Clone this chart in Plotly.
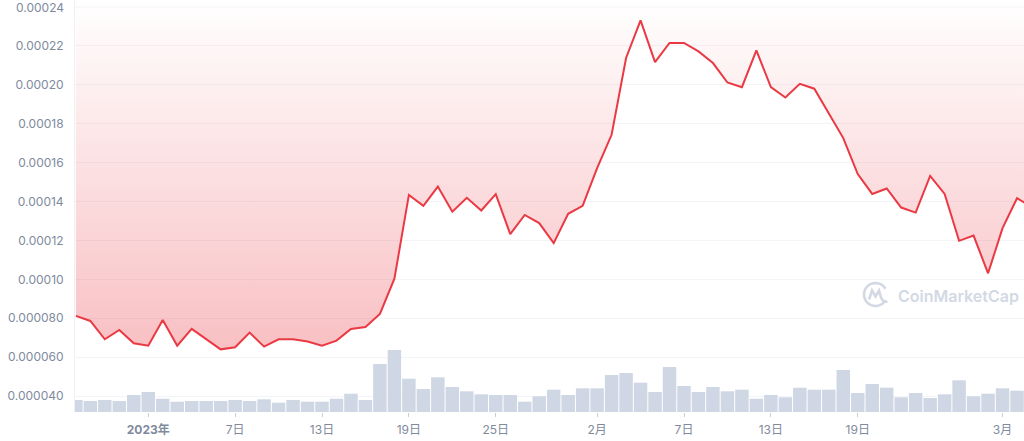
import math
import plotly.graph_objects as go
import pandas as pd

# ---- data ----
dates = pd.date_range("2022-12-27", "2023-03-03", freq="D")

price = [
    0.0000812, 0.0000786, 0.0000692, 0.0000740, 0.0000671,  # Dec 27-31
    0.0000659, 0.0000791, 0.0000659, 0.0000745, 0.0000693, 0.0000640, 0.0000651,
    0.0000726, 0.0000654, 0.0000692, 0.0000692, 0.0000680, 0.0000659, 0.0000685,
    0.0000745, 0.0000755, 0.0000822, 0.0001003, 0.0001434, 0.0001378, 0.0001477,
    0.0001348, 0.0001419, 0.0001354, 0.0001438, 0.0001232, 0.0001331, 0.0001289,
    0.0001186, 0.0001337, 0.0001378,  # Jan
    0.0001572, 0.0001743, 0.0002138, 0.0002331, 0.0002117, 0.0002215, 0.0002215,
    0.0002172, 0.0002112, 0.0002012, 0.0001988, 0.0002177, 0.0001988, 0.0001935,
    0.0002005, 0.0001980, 0.0001855, 0.0001726, 0.0001541, 0.0001439, 0.0001467,
    0.0001369, 0.0001343, 0.0001532, 0.0001439, 0.0001198, 0.0001225, 0.0001031,  # Feb
    0.0001263, 0.0001417, 0.0001373,  # Mar 1-3
]

volume = [
    12, 11, 12, 11, 17,
    20, 13.3, 10.3, 11, 11, 11, 12, 11, 12.7, 9.3, 12, 10.3, 10.3, 13.3, 18.3,
    12, 48, 62, 33.3, 23, 34.7, 25, 20.7, 17.7, 17, 17, 10.3, 15.7, 22.3, 17, 23.7,
    23.7, 37, 39, 29.3, 20, 45, 26, 20, 25, 20.7, 22.3, 13.3, 17, 14.7, 24.3, 22.3,
    22.3, 42, 19, 28, 24.3, 14.7, 19, 14, 17.7, 31.7, 15.7, 18.3,
    23.7, 21.3, 20,
]

y_tickvals = [0.00004, 0.00006, 0.00008, 0.00010, 0.00012, 0.00014,
              0.00016, 0.00018, 0.00020, 0.00022, 0.00024]
y_ticktext = ["0.000040", "0.000060", "0.000080", "0.00010", "0.00012", "0.00014",
              "0.00016", "0.00018", "0.00020", "0.00022", "0.00024"]

x_tickvals = ["2023-01-01", "2023-01-07", "2023-01-13", "2023-01-19", "2023-01-25",
              "2023-02-01", "2023-02-07", "2023-02-13", "2023-02-19", "2023-03-01"]
x_ticktext = ["<b>2023年</b>", "7日", "13日", "19日", "25日",
              "2月", "7日", "13日", "19日", "3月"]

# ---- styling ----
RED = "#ea3943"
BAR = "#cfd6e4"
GREY = "#808a9d"
FONT = "Inter, 'Noto Sans CJK SC', sans-serif"
Y_RANGE = [0.0000318, 0.0002436]
Y_TOP = 0.00026

fig = go.Figure()

fig.add_trace(go.Bar(
    x=dates, y=volume, yaxis="y2", marker=dict(color=BAR, line=dict(width=0)),
    hoverinfo="skip", showlegend=False,
))

fig.add_trace(go.Scatter(
    x=dates, y=[Y_TOP] * len(dates), mode="lines", line=dict(width=0),
    hoverinfo="skip", showlegend=False,
))

fig.add_trace(go.Scatter(
    x=dates, y=price, mode="lines", line=dict(color=RED, width=2),
    fill="tonexty",
    fillgradient=dict(
        type="vertical",
        start=0.0000636, stop=Y_RANGE[1],
        colorscale=[[0, "rgba(234,57,67,0.32)"], [1, "rgba(234,57,67,0)"]],
    ),
    showlegend=False,
))

W, H = 1024, 441
ML, MR, MT, MB = 75, 0, 0, 29
pw, ph = W - ML - MR, H - MT - MB

# watermark logo (pixel-sized paths anchored in paper coords)
lx = (875.5 - ML) / pw
ly = 1 - (294.5 - MT) / ph
wm = "#d3d9e4"
r = 11.5
pts = []
for k in range(0, 41):
    a = math.radians(-30 - k * (300 / 40))  # ring with a gap at lower right
    pts.append((r * math.cos(a), r * math.sin(a)))
ring = "M " + " L ".join(f"{x:.2f} {y:.2f}" for x, y in pts)
fig.add_shape(
    type="path", xref="paper", yref="paper", xsizemode="pixel", ysizemode="pixel",
    xanchor=lx, yanchor=ly, path=ring,
    line=dict(color=wm, width=2.6), layer="above",
)
fig.add_shape(
    type="path", xref="paper", yref="paper", xsizemode="pixel", ysizemode="pixel",
    xanchor=lx, yanchor=ly,
    path="M -6.5 -5 L -3.5 4 L 0 -2 L 3.5 4 L 5.5 -3 Q 7.5 -8 12 -7",
    line=dict(color=wm, width=2.6), layer="above",
)
fig.add_annotation(
    xref="paper", yref="paper", x=(896 - ML) / pw, y=1 - (296 - MT) / ph,
    xanchor="left", yanchor="middle", showarrow=False,
    text="CoinMarketCap", font=dict(family=FONT, size=16, color=wm, weight=600),
)

# top tick label (drawn as annotation so it is not dropped at the edge)
fig.add_annotation(
    xref="paper", yref="y", x=0, y=y_tickvals[-1], xanchor="right", yanchor="middle",
    xshift=-9, showarrow=False, text=y_ticktext[-1],
    font=dict(family=FONT, size=12, color=GREY),
)

fig.update_layout(
    width=W, height=H,
    margin=dict(l=ML, r=MR, t=MT, b=MB, autoexpand=False),
    paper_bgcolor="white", plot_bgcolor="white",
    bargap=0.07,
    font=dict(family=FONT, color=GREY, size=12),
    xaxis=dict(
        type="date",
        range=["2022-12-26 22:34", "2023-03-02 11:34"],
        tickvals=x_tickvals, ticktext=x_ticktext,
        ticks="outside", ticklen=4, tickcolor="#c8ced9", tickwidth=1,
        ticklabelstandoff=3,
        showgrid=False, showline=False, zeroline=False,
        automargin=False,
        tickfont=dict(family=FONT, size=12, color=GREY),
    ),
    yaxis=dict(
        range=Y_RANGE, tickvals=y_tickvals[:-1], ticktext=y_ticktext[:-1],
        showgrid=True, gridcolor="#f3f4f7", gridwidth=1,
        showline=True, linecolor="#eef0f4", linewidth=1,
        zeroline=False, ticks="", ticklabelstandoff=8,
        automargin=False,
        tickfont=dict(family=FONT, size=12, color=GREY),
    ),
    yaxis2=dict(
        overlaying="y", range=[0, ph], showgrid=False, showticklabels=False,
        zeroline=False, showline=False,
    ),
)

# gridline for the top tick (its label is an annotation)
fig.add_hline(y=y_tickvals[-1], line=dict(color="#f3f4f7", width=1), layer="below")

fig.write_html(
    "out.html",
    config={"displayModeBar": False},
    post_script="document.body.style.margin='0';document.body.style.overflow='hidden';",
)
